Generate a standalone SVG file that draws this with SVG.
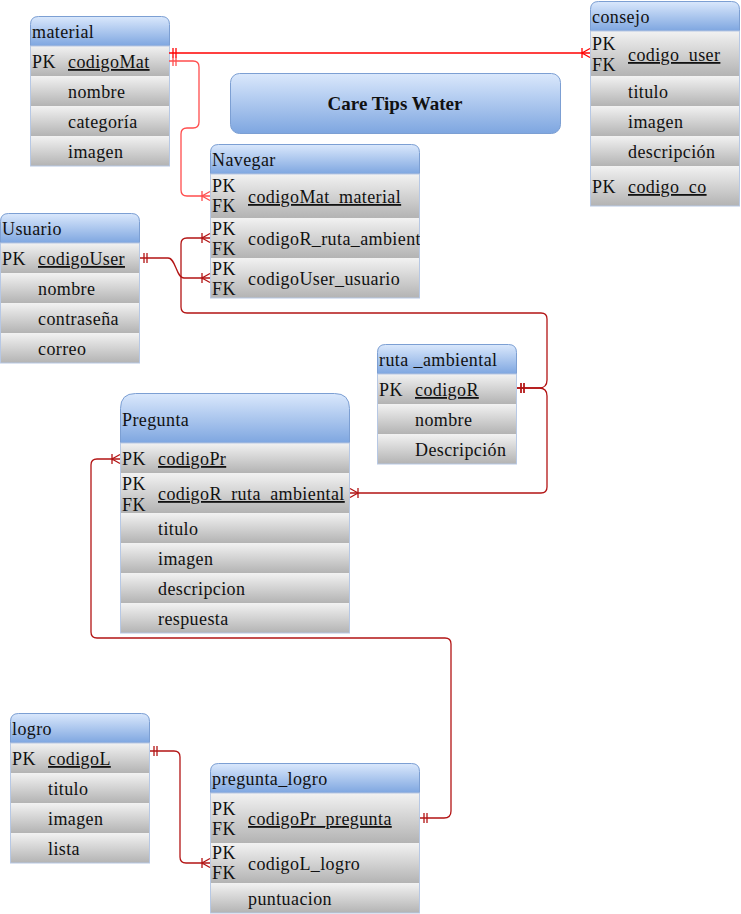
<svg xmlns="http://www.w3.org/2000/svg" width="741" height="914" viewBox="0 0 741 914">
<style>
.t{font-family:'Liberation Serif',serif;font-size:18px;fill:#111;letter-spacing:0.4px}
.u{text-decoration:underline}
.title{font-family:'Liberation Serif',serif;font-size:19px;font-weight:bold;fill:#111;text-anchor:middle}
.hdr{fill:url(#hdr);stroke:#7c9fd3;stroke-width:1}
.row{fill:url(#row);stroke:none}
.body{fill:none;stroke:#b7c8e4;stroke-width:1}
.c{fill:none;stroke-width:1.3}
.cr{stroke:#ff0000}
.cl{stroke:#ff4d4d}
.cd{stroke:#b31414}
</style>
<defs>
<linearGradient id="hdr" x1="0" y1="0" x2="0" y2="1"><stop offset="0" stop-color="#dae8fc"/><stop offset="1" stop-color="#7ea6e0"/></linearGradient>
<linearGradient id="row" x1="0" y1="0" x2="0" y2="1"><stop offset="0" stop-color="#f2f2f2"/><stop offset="1" stop-color="#b3b3b3"/></linearGradient>
<clipPath id="navclip"><rect x="210" y="144" width="210" height="154"/></clipPath>
<marker id="oneR" markerUnits="userSpaceOnUse" markerWidth="12" markerHeight="12" refX="10" refY="6" orient="auto-start-reverse"><path d="M6,1V11M3,1V11" fill="none" stroke="#ff0000" stroke-width="1.3"/></marker>
<marker id="manyR" markerUnits="userSpaceOnUse" markerWidth="12" markerHeight="12" refX="10" refY="6" orient="auto"><path d="M10,1.5L2,6L10,10.5M2,1V11" fill="none" stroke="#ff0000" stroke-width="1.3"/></marker>
<marker id="oneL" markerUnits="userSpaceOnUse" markerWidth="12" markerHeight="12" refX="10" refY="6" orient="auto-start-reverse"><path d="M6,1V11M3,1V11" fill="none" stroke="#ff4d4d" stroke-width="1.3"/></marker>
<marker id="manyL" markerUnits="userSpaceOnUse" markerWidth="12" markerHeight="12" refX="10" refY="6" orient="auto"><path d="M10,1.5L2,6L10,10.5M2,1V11" fill="none" stroke="#ff4d4d" stroke-width="1.3"/></marker>
<marker id="oneD" markerUnits="userSpaceOnUse" markerWidth="12" markerHeight="12" refX="10" refY="6" orient="auto-start-reverse"><path d="M6,1V11M3,1V11" fill="none" stroke="#b31414" stroke-width="1.3"/></marker>
<marker id="manyD" markerUnits="userSpaceOnUse" markerWidth="12" markerHeight="12" refX="10" refY="6" orient="auto"><path d="M10,1.5L2,6L10,10.5M2,1V11" fill="none" stroke="#b31414" stroke-width="1.3"/></marker>
</defs>
<rect width="741" height="914" fill="#ffffff"/>

<g id="title">
<rect x="230.5" y="73.5" width="330" height="60" rx="9" class="hdr"/>
<text x="395" y="110" class="title">Care Tips Water</text>
</g>

<g id="material">
<path class="hdr" d="M30.5,46V24.5Q30.5,16.5 38.5,16.5H161.5Q169.5,16.5 169.5,24.5V46Z"/>
<rect class="row" x="30" y="46" width="139" height="30"/>
<rect class="row" x="30" y="76" width="139" height="30"/>
<rect class="row" x="30" y="106" width="139" height="30"/>
<rect class="row" x="30" y="136" width="139" height="30"/>
<rect class="body" x="30.5" y="46" width="139" height="120"/>
<text x="32" y="38" class="t">material</text>
<text x="32" y="68" class="t">PK</text><text x="68" y="68" class="t u">codigoMat</text>
<text x="68" y="98" class="t">nombre</text>
<text x="68" y="128" class="t">categoría</text>
<text x="68" y="158" class="t">imagen</text>
</g>

<g id="consejo">
<path class="hdr" d="M590.5,31V9.5Q590.5,1.5 598.5,1.5H731.5Q739.5,1.5 739.5,9.5V31Z"/>
<rect class="row" x="590" y="31" width="150" height="45"/>
<rect class="row" x="590" y="76" width="150" height="30"/>
<rect class="row" x="590" y="106" width="150" height="30"/>
<rect class="row" x="590" y="136" width="150" height="30"/>
<rect class="row" x="590" y="166" width="150" height="40"/>
<rect class="body" x="590.5" y="31" width="149" height="175"/>
<text x="592" y="23" class="t">consejo</text>
<text x="592" y="50" class="t">PK</text><text x="592" y="71" class="t">FK</text><text x="628" y="61" class="t u">codigo_user</text>
<text x="628" y="98" class="t">titulo</text>
<text x="628" y="128" class="t">imagen</text>
<text x="628" y="158" class="t">descripción</text>
<text x="592" y="193" class="t">PK</text><text x="628" y="193" class="t u">codigo_co</text>
</g>

<g id="navegar">
<path class="hdr" d="M210.5,174V152.5Q210.5,144.5 218.5,144.5H411.5Q419.5,144.5 419.5,152.5V174Z"/>
<rect class="row" x="210" y="174" width="210" height="44"/>
<rect class="row" x="210" y="218" width="210" height="40"/>
<rect class="row" x="210" y="258" width="210" height="40"/>
<rect class="body" x="210.5" y="174" width="209" height="124"/>
<text x="212" y="166" class="t">Navegar</text>
<g clip-path="url(#navclip)">
<text x="212" y="192" class="t">PK</text><text x="212" y="212" class="t">FK</text><text x="248" y="203" class="t u">codigoMat_material</text>
<text x="212" y="235" class="t">PK</text><text x="212" y="255" class="t">FK</text><text x="248" y="245" class="t">codigoR_ruta_ambiental</text>
<text x="212" y="275" class="t">PK</text><text x="212" y="295" class="t">FK</text><text x="248" y="285" class="t">codigoUser_usuario</text>
</g>
</g>

<g id="usuario">
<path class="hdr" d="M0.5,243V221.5Q0.5,213.5 8.5,213.5H131.5Q139.5,213.5 139.5,221.5V243Z"/>
<rect class="row" x="0" y="243" width="140" height="30"/>
<rect class="row" x="0" y="273" width="140" height="30"/>
<rect class="row" x="0" y="303" width="140" height="30"/>
<rect class="row" x="0" y="333" width="140" height="30"/>
<rect class="body" x="0.5" y="243" width="139" height="120"/>
<text x="2" y="235" class="t">Usuario</text>
<text x="2" y="265" class="t">PK</text><text x="38" y="265" class="t u">codigoUser</text>
<text x="38" y="295" class="t">nombre</text>
<text x="38" y="325" class="t">contraseña</text>
<text x="38" y="355" class="t">correo</text>
</g>

<g id="ruta_ambiental">
<path class="hdr" d="M377.5,374V352.5Q377.5,344.5 385.5,344.5H508.5Q516.5,344.5 516.5,352.5V374Z"/>
<rect class="row" x="377" y="374" width="140" height="30"/>
<rect class="row" x="377" y="404" width="140" height="30"/>
<rect class="row" x="377" y="434" width="140" height="30"/>
<rect class="body" x="377.5" y="374" width="139" height="90"/>
<text x="379" y="366" class="t">ruta _ambiental</text>
<text x="379" y="396" class="t">PK</text><text x="415" y="396" class="t u">codigoR</text>
<text x="415" y="426" class="t">nombre</text>
<text x="415" y="456" class="t">Descripción</text>
</g>

<g id="pregunta">
<path class="hdr" d="M120.5,443V408.5Q120.5,393.5 135.5,393.5H334.5Q349.5,393.5 349.5,408.5V443Z"/>
<rect class="row" x="120" y="443" width="230" height="30"/>
<rect class="row" x="120" y="473" width="230" height="40"/>
<rect class="row" x="120" y="513" width="230" height="30"/>
<rect class="row" x="120" y="543" width="230" height="30"/>
<rect class="row" x="120" y="573" width="230" height="30"/>
<rect class="row" x="120" y="603" width="230" height="30"/>
<rect class="body" x="120.5" y="443" width="229" height="190"/>
<text x="122" y="426" class="t">Pregunta</text>
<text x="122" y="465" class="t">PK</text><text x="158" y="465" class="t u">codigoPr</text>
<text x="122" y="490" class="t">PK</text><text x="122" y="511" class="t">FK</text><text x="158" y="500" class="t u">codigoR_ruta_ambiental</text>
<text x="158" y="535" class="t">titulo</text>
<text x="158" y="565" class="t">imagen</text>
<text x="158" y="595" class="t">descripcion</text>
<text x="158" y="625" class="t">respuesta</text>
</g>

<g id="logro">
<path class="hdr" d="M10.5,743V721.5Q10.5,713.5 18.5,713.5H141.5Q149.5,713.5 149.5,721.5V743Z"/>
<rect class="row" x="10" y="743" width="140" height="30"/>
<rect class="row" x="10" y="773" width="140" height="30"/>
<rect class="row" x="10" y="803" width="140" height="30"/>
<rect class="row" x="10" y="833" width="140" height="30"/>
<rect class="body" x="10.5" y="743" width="139" height="120"/>
<text x="12" y="735" class="t">logro</text>
<text x="12" y="765" class="t">PK</text><text x="48" y="765" class="t u">codigoL</text>
<text x="48" y="795" class="t">titulo</text>
<text x="48" y="825" class="t">imagen</text>
<text x="48" y="855" class="t">lista</text>
</g>

<g id="pregunta_logro">
<path class="hdr" d="M210.5,793V771.5Q210.5,763.5 218.5,763.5H411.5Q419.5,763.5 419.5,771.5V793Z"/>
<rect class="row" x="210" y="793" width="210" height="50"/>
<rect class="row" x="210" y="843" width="210" height="40"/>
<rect class="row" x="210" y="883" width="210" height="30"/>
<rect class="body" x="210.5" y="793" width="209" height="120"/>
<text x="212" y="785" class="t">pregunta_logro</text>
<text x="212" y="815" class="t">PK</text><text x="212" y="835" class="t">FK</text><text x="248" y="825" class="t u">codigoPr_pregunta</text>
<text x="212" y="859" class="t">PK</text><text x="212" y="879" class="t">FK</text><text x="248" y="870" class="t">codigoL_logro</text>
<text x="248" y="905" class="t">puntuacion</text>
</g>

<g id="connectors">
<path class="c cr" d="M169,53H590" marker-start="url(#oneR)" marker-end="url(#manyR)"/>
<path class="c cl" d="M169,61H193Q199,61 199,67V122Q199,128 193,128H187Q181,128 181,134V190Q181,196 187,196H210" marker-start="url(#oneL)" marker-end="url(#manyL)"/>
<path class="c cd" d="M140,258H168C176,258 176,278 184,278H210" marker-start="url(#oneD)" marker-end="url(#manyD)"/>
<path class="c cd" d="M517,388H539Q547,388 547,380V319Q547,313 541,313H187Q181,313 181,307V244Q181,238 187,238H210" marker-start="url(#oneD)" marker-end="url(#manyD)"/>
<path class="c cd" d="M517,388H539Q547,388 547,396V487Q547,493 541,493H350" marker-start="url(#oneD)" marker-end="url(#manyD)"/>
<path class="c cd" d="M420,818H444Q451,818 451,811V644Q451,638 445,638H97Q91,638 91,632V465Q91,459 97,459H120" marker-start="url(#oneD)" marker-end="url(#manyD)"/>
<path class="c cd" d="M150,751H174Q180,751 180,757V857Q180,863 186,863H210" marker-start="url(#oneD)" marker-end="url(#manyD)"/>
</g>
</svg>
